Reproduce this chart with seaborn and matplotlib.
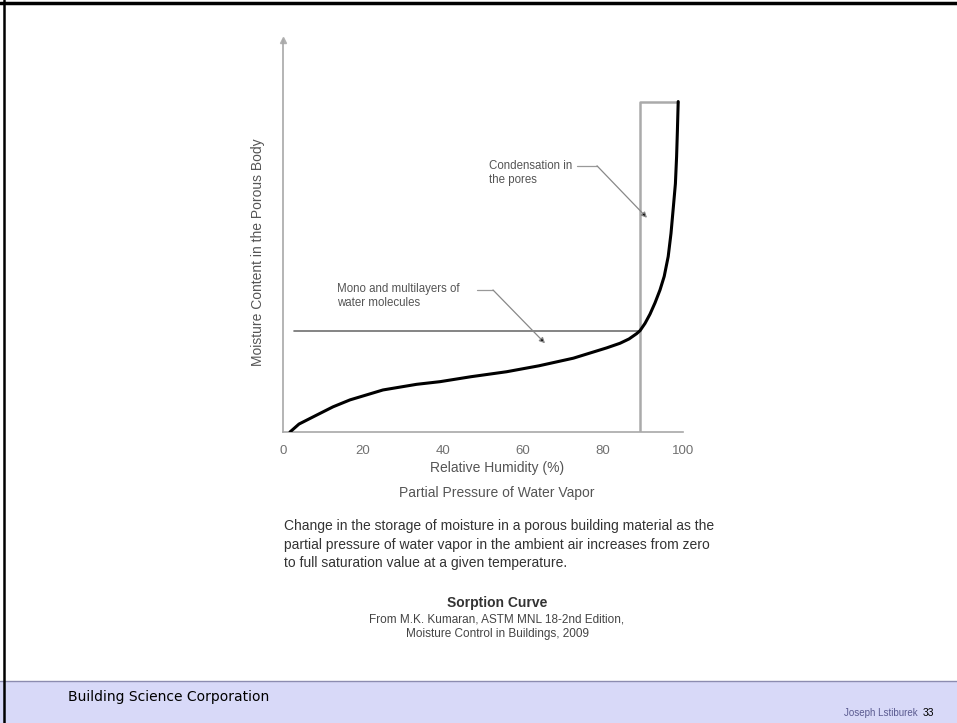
import matplotlib
matplotlib.use("Agg")
import matplotlib.pyplot as plt
import seaborn as sns
import pandas as pd
from matplotlib.lines import Line2D
from matplotlib.patches import Rectangle

# --- data (RH %, relative moisture content)
rh = [1.75, 4, 8.4, 12.5, 16.75, 25, 33.4, 39.25, 47, 55.9, 64, 72.6, 80.9,
      84.25, 86.5, 88.4, 89.25, 90.5, 91.75, 93, 94.25, 95.3, 96.3, 97, 97.6,
      98.1, 98.4, 98.6, 98.8]
moisture = [0, 2.4, 5.1, 7.6, 9.7, 12.7, 14.4, 15.2, 16.7, 18.2, 20, 22.3, 25.4,
            26.8, 28.1, 29.7, 30.6, 32.8, 35.6, 39, 42.9, 47, 53, 60, 68.1,
            75, 83.2, 91, 99.8]

x_ticks = [0, 20, 40, 60, 80, 100]
sat_rh = 89.25          # capillary condensation threshold
mono_level = 30.5       # mono/multilayer level
top_level = 99.8

caption_lines = [
    "Change in the storage of moisture in a porous building material as the",
    "partial pressure of water vapor in the ambient air increases from zero",
    "to full saturation value at a given temperature.",
]
source_lines = [
    "From M.K. Kumaran, ASTM MNL 18-2nd Edition,",
    "Moisture Control in Buildings, 2009",
]

sns.set_style("white")
plt.rcParams['font.family'] = ['Liberation Sans', 'DejaVu Sans']

W, H = 957, 723
fig = plt.figure(figsize=(W / 100, H / 100), dpi=100)

def fx(px):
    return px / W

def fy(py):
    return 1 - py / H

# slide frame + footer band
fig.add_artist(Rectangle((0, 0), 1, fy(681), transform=fig.transFigure,
                         facecolor="#d8d9f8", edgecolor="none", zorder=0))
fig.add_artist(Line2D([0, 1], [fy(681), fy(681)], transform=fig.transFigure,
                      color="#8c8cb0", lw=1))
fig.add_artist(Line2D([0, 1], [fy(2.5), fy(2.5)], transform=fig.transFigure,
                      color="black", lw=2.5))
fig.add_artist(Line2D([fx(4), fx(4)], [0, 1], transform=fig.transFigure,
                      color="black", lw=1.8))

ax = fig.add_axes([fx(283), fy(432), 400 / W, 392 / H])
df = pd.DataFrame({"rh": rh, "moisture": moisture})
sns.lineplot(data=df, x="rh", y="moisture", ax=ax, sort=False,
             color="black", lw=2.2, zorder=4)

ax.plot([sat_rh, sat_rh, rh[-1]], [0, top_level, top_level],
        color="#aaaaaa", lw=1.8, zorder=3)
ax.plot([2.75, sat_rh], [mono_level, mono_level], color="#707070", lw=1.2, zorder=3)

ax.set_xlim(0, 100)
ax.set_ylim(0, 118.4)
ax.set_xticks(x_ticks)
ax.set_xticklabels([str(t) for t in x_ticks])
ax.set_yticks([])
ax.tick_params(axis="x", length=0, pad=9, labelsize=9.5, labelcolor="#707070")
for s in ["top", "right"]:
    ax.spines[s].set_visible(False)
for s in ["left", "bottom"]:
    ax.spines[s].set_color("#a8a8a8")
    ax.spines[s].set_linewidth(1.2)
ax.plot(0, 1, marker="^", color="#b0b0b0", ms=4, transform=ax.transAxes,
        clip_on=False)

ax.set_xlabel("Relative Humidity (%)", fontsize=10, color="#555555")
ax.xaxis.set_label_coords(0.535, -0.075)
ax.set_ylabel("Moisture Content in the Porous Body", fontsize=10, color="#555555")
ax.yaxis.set_label_coords(-0.045, 0.459)

# annotations
note_kw = dict(fontsize=8.3, color="#555555", va="center", ha="left", linespacing=1.2)
ax.text(13.5, 41, "Mono and multilayers of\nwater molecules", **note_kw)
ax.plot([48.5, 52.5], [42.9, 42.9], color="#999999", lw=0.9)
ax.annotate("", xy=(65.5, 26.8), xytext=(52.5, 42.9),
            arrowprops=dict(arrowstyle="-|>", color="#999999", lw=0.9,
                            mutation_scale=8, fc="black", ec="#888888",
                            shrinkA=0, shrinkB=0))

ax.text(51.5, 78.2, "Condensation in\nthe pores", **note_kw)
ax.plot([73.5, 78.5], [80.4, 80.4], color="#999999", lw=0.9)
ax.annotate("", xy=(91, 64.7), xytext=(78.5, 80.4),
            arrowprops=dict(arrowstyle="-|>", color="#999999", lw=0.9,
                            mutation_scale=8, fc="black", ec="#888888",
                            shrinkA=0, shrinkB=0))

# texts below the chart
fig.text(fx(497), fy(493), "Partial Pressure of Water Vapor", ha="center",
         va="center", fontsize=10, color="#555555")
for i, line in enumerate(caption_lines):
    fig.text(fx(284), fy(526 + 18.5 * i), line, ha="left", va="center",
             fontsize=10, color="#333333")
fig.text(fx(497), fy(603), "Sorption Curve", ha="center", va="center",
         fontsize=10, fontweight="bold", color="#333333")
for i, line in enumerate(source_lines):
    fig.text(fx(497), fy(619 + 15 * i), line, ha="center", va="center",
             fontsize=8.5, color="#444444")

# footer
fig.text(fx(68), fy(697), "Building Science Corporation", ha="left", va="center",
         fontsize=10, color="black", family="DejaVu Sans")
fig.text(fx(918), fy(713), "Joseph Lstiburek", ha="right", va="center",
         fontsize=7, color="#5a5a90")
fig.text(fx(923), fy(713), "33", ha="left", va="center",
         fontsize=7.5, color="black")

fig.savefig("out.png", dpi=100)
